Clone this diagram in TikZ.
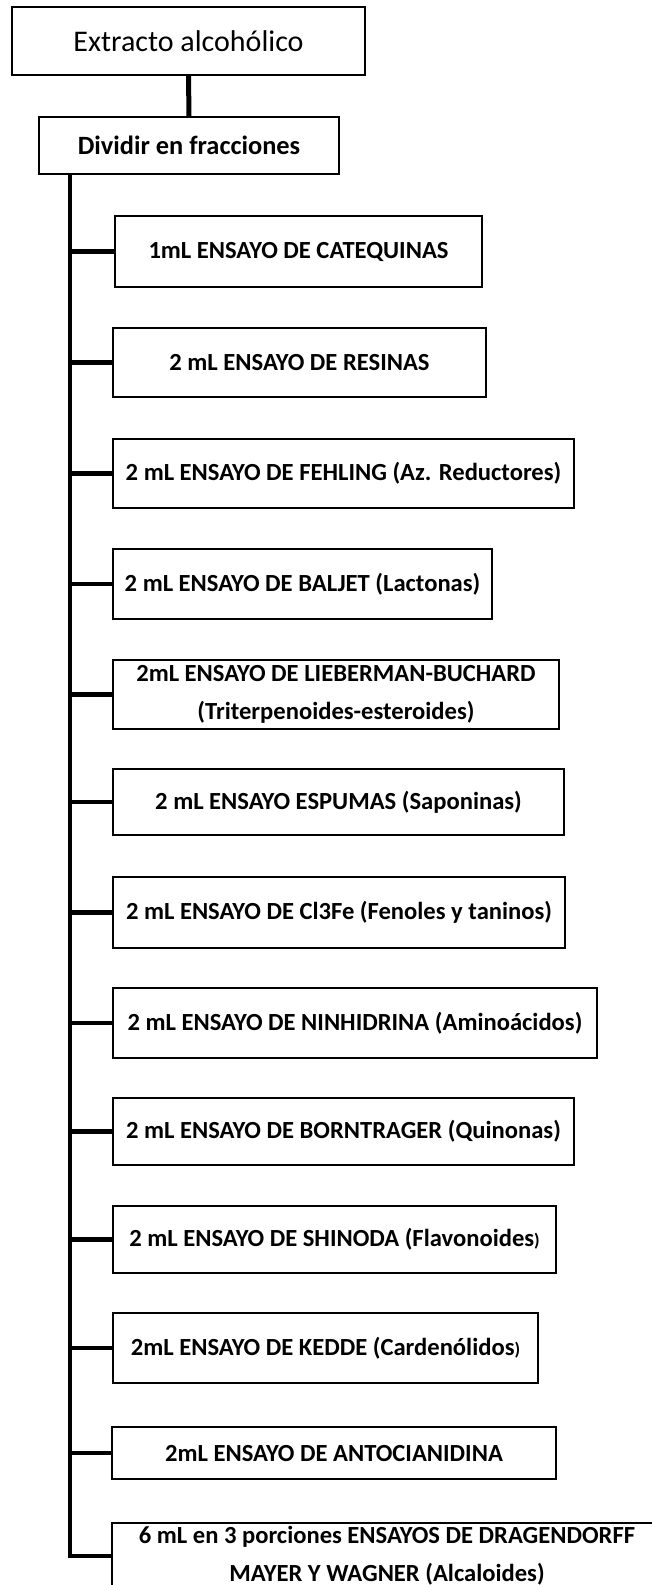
\documentclass[tikz,border=0pt]{standalone}
\usepackage{fontspec}
\setmainfont{Carlito}

\begin{document}
\begin{tikzpicture}[x=0.5pt,y=-0.5pt,
                    tbox/.style={draw,line width=1pt,inner sep=0pt,align=center,
                                 font=\bfseries\fontsize{12.3}{19}\selectfont},
                    lnk/.style={line width=2.2pt}]
  \useasboundingbox (0,0) rectangle (652,1585);
  \node[tbox,font=\fontsize{15}{18}\selectfont,minimum width=176.5pt,minimum height=34pt] (ext) at (188.5,41) {Extracto alcohólico};
  \node[tbox,font=\bfseries\fontsize{13.2}{16}\selectfont,minimum width=150pt,minimum height=28.5pt] (div) at (189,145.5) {Dividir en fracciones};
  \node[tbox,minimum width=183.5pt,minimum height=35.5pt] (b1) at (298.5,251.5) {1mL ENSAYO DE CATEQUINAS};
  \node[tbox,minimum width=186.5pt,minimum height=34.5pt] (b2) at (299.5,362.5) {2 mL ENSAYO DE RESINAS};
  \node[tbox,minimum width=230.5pt,minimum height=34.5pt] (b3) at (343.5,473.5) {2 mL ENSAYO DE FEHLING (Az. Reductores)};
  \node[tbox,minimum width=189.5pt,minimum height=35pt]   (b4) at (302.5,584) {2 mL ENSAYO DE BALJET (Lactonas)};
  \node[tbox,minimum width=223pt,minimum height=34.5pt]   (b5) at (336,694.5) {2mL ENSAYO DE LIEBERMAN-BUCHARD\\(Triterpenoides-esteroides)};
  \node[tbox,minimum width=225.5pt,minimum height=33pt]   (b6) at (338.5,802) {2 mL ENSAYO ESPUMAS (Saponinas)};
  \node[tbox,minimum width=226pt,minimum height=35.5pt]   (b7) at (339,912.5) {2 mL ENSAYO DE Cl3Fe (Fenoles y taninos)};
  \node[tbox,minimum width=242pt,minimum height=35pt]     (b8) at (355,1023) {2 mL ENSAYO DE NINHIDRINA (Aminoácidos)};
  \node[tbox,minimum width=230.5pt,minimum height=33.5pt] (b9) at (343.5,1131.5) {2 mL ENSAYO DE BORNTRAGER (Quinonas)};
  \node[tbox,minimum width=221.5pt,minimum height=33.5pt] (b10) at (334.5,1239.5) {2 mL ENSAYO DE SHINODA (Flavonoides{\fontsize{9}{9}\selectfont)}};
  \node[tbox,minimum width=212.5pt,minimum height=35pt]   (b11) at (325.5,1348) {2mL ENSAYO DE KEDDE (Cardenólidos{\fontsize{9}{9}\selectfont)}};
  \node[tbox,minimum width=222pt,minimum height=26pt]     (b12) at (334,1453) {2mL ENSAYO DE ANTOCIANIDINA};
  \node[tbox,minimum width=275pt,minimum height=33pt]     (b13) at (387,1556) {6 mL en 3 porciones ENSAYOS DE DRAGENDORFF\\MAYER Y WAGNER (Alcaloides)};
  \coordinate (tk) at (70,174);
  \draw[lnk,line width=2.5pt] (ext.south)--(div.north);
  \draw[lnk] (tk) |- (b13.west);
  \draw[lnk] (tk |- b1.west)--(b1.west);
  \draw[lnk] (tk |- b2.west)--(b2.west);
  \draw[lnk] (tk |- b3.west)--(b3.west);
  \draw[lnk] (tk |- b4.west)--(b4.west);
  \draw[lnk] (tk |- b5.west)--(b5.west);
  \draw[lnk] (tk |- b6.west)--(b6.west);
  \draw[lnk] (tk |- b7.west)--(b7.west);
  \draw[lnk] (tk |- b8.west)--(b8.west);
  \draw[lnk] (tk |- b9.west)--(b9.west);
  \draw[lnk] (tk |- b10.west)--(b10.west);
  \draw[lnk] (tk |- b11.west)--(b11.west);
  \draw[lnk] (tk |- b12.west)--(b12.west);
\end{tikzpicture}
\end{document}
